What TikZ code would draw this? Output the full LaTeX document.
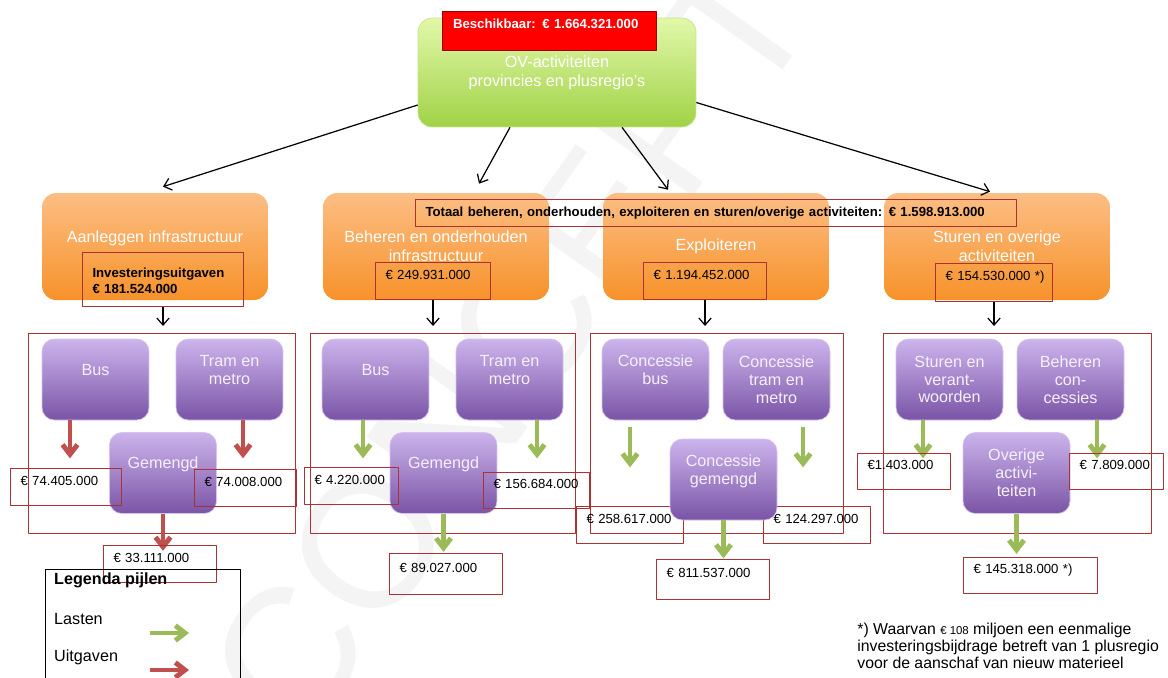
\documentclass[tikz,border=0pt]{standalone}
\usepackage{fontspec}
\setmainfont{Liberation Sans}
\usetikzlibrary{arrows.meta,calc,shapes}

\definecolor{greentop}{RGB}{226,248,170}
\definecolor{greenbot}{RGB}{160,210,70}
\definecolor{orangetop}{RGB}{252,190,132}
\definecolor{orangebot}{RGB}{247,146,42}
\definecolor{purptop}{RGB}{204,180,236}
\definecolor{purpbot}{RGB}{122,84,166}
\definecolor{purptext}{RGB}{246,240,252}
\definecolor{boxred}{RGB}{170,50,50}
\definecolor{arrowred}{RGB}{192,80,77}
\definecolor{arrowgreen}{RGB}{155,187,89}

\begin{document}
\begin{tikzpicture}
      [x=0.02cm,y=-0.02cm,line join=round,
       ovbox/.style={rounded corners=8pt,top color=greentop,bottom color=greenbot,draw=greenbot!60!white,
         minimum width=5.56cm,minimum height=2.18cm,text=white,align=center,font=\fontsize{9.2}{10.8}\selectfont},
       availbox/.style={fill=red,draw=red!60!black,text=white,align=left,text width=3.84cm,inner xsep=0.22cm,
         inner ysep=0pt,minimum height=0.78cm,text depth=0.28cm,font=\bfseries\fontsize{7.5}{9}\selectfont},
       actbox/.style={rounded corners=8pt,top color=orangetop,bottom color=orangebot,
         minimum width=4.52cm,minimum height=2.14cm,text=white,align=center,font=\fontsize{9.2}{10.8}\selectfont},
       modebox/.style={rounded corners=7pt,top color=purptop,bottom color=purpbot,draw=purptop!80!white,
         minimum width=2.14cm,minimum height=1.62cm,text=purptext,align=center,font=\fontsize{9.2}{10.2}\selectfont},
       raised/.style={text depth=0.4cm},
       valbox/.style={draw=boxred,line width=0.6pt,anchor=north west,align=left,inner xsep=0.2cm,inner ysep=0pt,
         minimum height=0.74cm,text depth=0.26cm,text width=#1,font=\fontsize{7.5}{9}\selectfont},
       groupframe/.style={draw=boxred,line width=0.6pt,anchor=north west,minimum height=4cm,minimum width=#1},
       thinarrow/.style={-{Straight Barb[length=4pt,width=7pt]},line width=0.7pt},
       redarr/.style={-{Straight Barb[length=5.5pt,width=8.5pt]},line width=2.8pt,draw=arrowred},
       greenarr/.style={-{Straight Barb[length=5.5pt,width=8.5pt]},line width=2.8pt,draw=arrowgreen}]%main layer

\useasboundingbox (0,0) rectangle (1168,677);

%watermark
\node[rotate=54.5,text=gray!9,font=\fontsize{104}{104}\selectfont] (mark) at (510,345) {CONCEPT};

%top of the tree
\node[ovbox] (ov) at (557,72.5) {OV-activiteiten\\provincies en plusregio's};
\node[availbox] (avail) at (549,30.5) {Beschikbaar: €~1.664.321.000};

%the four activities
\node[actbox,text depth=0.41cm] (aanl) at (155,246.5) {Aanleggen infrastructuur};
\node[actbox] (behr) at (436,246.5) {Beheren en onderhouden\\infrastructuur};
\node[actbox] (expl) at (716,246.5) {Exploiteren};
\node[actbox] (stur) at (997,246.5) {Sturen en overige\\activiteiten};

 \draw[thinarrow] ($(ov.west)+(0,32.5)$) -- ($(aanl.north)+(8,-6)$);
 \draw[thinarrow] ($(ov.south)+(-47,0)$) -- ($(behr.north)+(43,-9)$);
 \draw[thinarrow] ($(ov.south)+(65,0)$) -- ($(expl.north)+(-48,-3)$);
 \draw[thinarrow] ($(ov.east)+(0,30)$) -- ($(stur.north)+(-7,-1)$);

\node[valbox=2.82cm,minimum height=1.08cm,font=\bfseries\fontsize{7.5}{9}\selectfont] (invest) at (82,252)
   {Investeringsuitgaven\\€~181.524.000};
\node[valbox=1.90cm] (vbehr) at (375,262) {€~249.931.000};
\node[valbox=2.06cm] (vexpl) at (643,262) {€~1.194.452.000};
\node[valbox=1.94cm,minimum height=0.76cm] (vstur) at (935,263) {€~154.530.000~*)};
\node[valbox=11.62cm,minimum height=0.54cm,text depth=0.06cm,font=\bfseries\fontsize{7.5}{9}\selectfont] (totaal) at (415,199)
   {Totaal beheren, onderhouden, exploiteren en sturen/overige activiteiten: €~1.598.913.000};

%frames round the modes
\node[groupframe=5.34cm] (fr1) at (28,333) {};
\node[groupframe=5.30cm] (fr2) at (310,333) {};
\node[groupframe=5.06cm] (fr3) at (590,333) {};
\node[groupframe=5.36cm] (fr4) at (883,333) {};

 \draw[thinarrow,shorten >=0.14cm] (invest.south) -- (invest.south |- fr1.north);
 \draw[thinarrow,shorten >=0.14cm] (vbehr.south) -- (vbehr.south |- fr2.north);
 \draw[thinarrow,shorten >=0.14cm] (vexpl.south) -- (vexpl.south |- fr3.north);
 \draw[thinarrow,shorten >=0.14cm] (vstur.south) -- (vstur.south |- fr4.north);

%column 1: aanleggen
\node[modebox,raised] (bus1) at (95.5,379.5) {Bus};
\node[modebox,raised] (tram1) at (229.5,379.5) {Tram en\\metro};
\node[modebox,raised] (gem1) at (163,473) {Gemengd};
 \draw[redarr] ($(bus1.south)+(-25.5,0)$) -- ++(0,38);
 \draw[redarr] ($(tram1.south)+(13.5,0)$) -- ++(0,38);
 \draw[redarr] (gem1.south) -- ++(0,37);
\node[valbox=1.82cm] (v11) at (10,468) {€~74.405.000};
\node[valbox=1.64cm] (v12) at (194,469) {€~74.008.000};
\node[valbox=1.86cm] (v13) at (103,545) {€~33.111.000};

%column 2: beheren en onderhouden
\node[modebox,raised] (bus2) at (375.5,379.5) {Bus};
\node[modebox,raised] (tram2) at (509.5,379.5) {Tram en\\metro};
\node[modebox,raised] (gem2) at (443.5,473) {Gemengd};
 \draw[greenarr] ($(bus2.south)+(-12.5,0)$) -- ++(0,38);
 \draw[greenarr] ($(tram2.south)+(27.5,0)$) -- ++(0,38);
 \draw[greenarr] (gem2.south) -- ++(0,38);
\node[valbox=1.48cm] (v21) at (304,467) {€~4.220.000};
\node[valbox=1.72cm,minimum height=0.72cm] (v22) at (483,472) {€~156.684.000};
\node[valbox=1.86cm,minimum height=0.82cm] (v23) at (389,553) {€~89.027.000};

%column 3: exploiteren
\node[valbox=1.74cm] (v31) at (576,506) {€~258.617.000};
\node[valbox=1.74cm] (v32) at (763,506) {€~124.297.000};
\node[modebox,raised] (cbus) at (655.5,379.5) {Concessie\\bus};
\node[modebox] (ctram) at (776.5,379.5) {Concessie\\tram en\\metro};
\node[modebox,raised] (cgem) at (723.5,479.5) {Concessie\\gemengd};
 \draw[greenarr] ($(cbus.south)+(-25.5,7)$) -- ++(0,40);
 \draw[greenarr] ($(ctram.south)+(26.5,7)$) -- ++(0,40);
 \draw[greenarr] (cgem.south) -- ++(0,38);
\node[valbox=1.86cm,minimum height=0.80cm] (v33) at (656,559) {€~811.537.000};

%column 4: sturen en overige activiteiten
\node[modebox] (sturen) at (949.5,379.5) {Sturen en\\verant-\\woorden};
\node[modebox] (behcon) at (1070.5,379.5) {Beheren\\con-\\cessies};
\node[modebox] (overig) at (1016.5,473) {Overige\\activi-\\teiten};
 \draw[greenarr] ($(sturen.south)+(-26.5,0)$) -- ++(0,38);
 \draw[greenarr] ($(behcon.south)+(26.5,0)$) -- ++(0,38);
 \draw[greenarr] (overig.south) -- ++(0,40);
\node[valbox=1.46cm,minimum height=0.72cm] (v41) at (857,453) {€1.403.000};
\node[valbox=1.48cm,minimum height=0.72cm] (v42) at (1069,453) {€~7.809.000};
\node[valbox=2.28cm,minimum height=0.72cm] (v43) at (963,557) {€~145.318.000~*)};

%legend
\node[draw,line width=0.6pt,anchor=north west,minimum width=3.9cm,minimum height=2.7cm] (legend) at (45,569) {};
\node[anchor=west,font=\bfseries\fontsize{9.2}{11}\selectfont] (legtitle) at (48,580) {Legenda pijlen};
\node[anchor=west,font=\fontsize{9.2}{11}\selectfont] (lasten) at (48,619) {Lasten};
\node[anchor=west,font=\fontsize{9.2}{11}\selectfont] (uitgaven) at (48,657) {Uitgaven};
 \draw[greenarr] (150,633) -- (189,633);
 \draw[redarr] (150,670) -- (189,670);

%footnote
\node[anchor=north west,align=left,inner sep=0pt,font=\fontsize{9}{9.6}\selectfont] (note) at (857,623)
   {*) Waarvan {\fontsize{6.5}{8}\selectfont €~108} miljoen een eenmalige\\investeringsbijdrage betreft van 1 plusregio\\voor de aanschaf van nieuw materieel};

\end{tikzpicture}
\end{document}
